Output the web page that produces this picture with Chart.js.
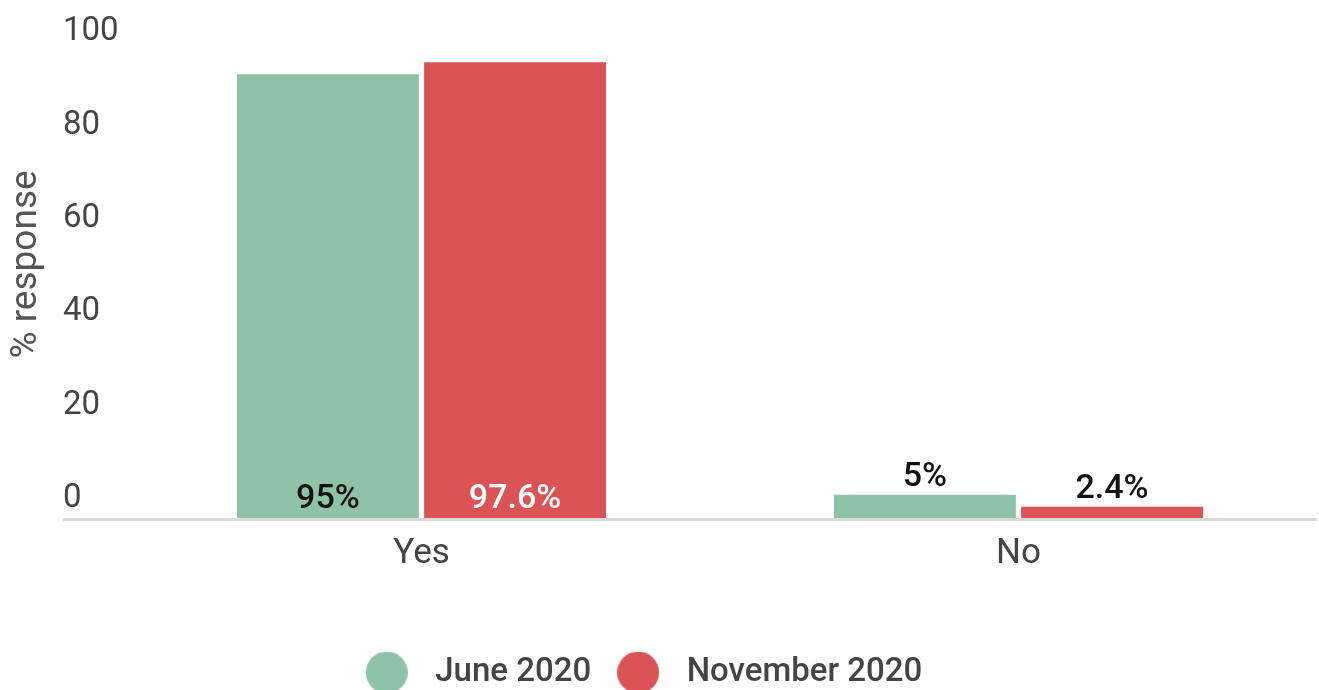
<!DOCTYPE html>
<html>
<head>
<meta charset="utf-8">
<script src="https://cdn.jsdelivr.net/npm/chart.js@4.4.1/dist/chart.umd.min.js"></script>
<style>
  html, body { margin: 0; padding: 0; background: #fff; overflow: hidden; height: 690px; }
  #wrap { width: 1319px; height: 699px; position: relative; }
</style>
</head>
<body>
<div id="wrap"><canvas id="chart"></canvas></div>
<script>
// survey answers, % of respondents
const categories = ['Yes', 'No'];
const june2020 = [95, 5];
const november2020 = [97.6, 2.4];
const seriesNames = ['June 2020', 'November 2020'];
const yTicks = [0, 20, 40, 60, 80, 100];
const yTitle = '% response';

const GREEN = '#8fc3a8';
const RED = '#dc5356';
const TEXT = '#444';

Chart.defaults.font.family = 'Roboto';

// round legend markers, drawn once as small canvases
function dot(color) {
  const c = document.createElement('canvas');
  c.width = 42; c.height = 42;
  const g = c.getContext('2d');
  g.fillStyle = color;
  g.beginPath();
  g.arc(21, 21, 21, 0, Math.PI * 2);
  g.fill();
  return c;
}
const dots = [dot(GREEN), dot(RED)];

// grey baseline under the bars, running out under the y labels
const baseline = {
  id: 'baseline',
  beforeDatasetsDraw(chart) {
    const y = chart.scales.y;
    const yp = y.getPixelForValue(0);
    const x0 = y.right + y.options.ticks.padding;
    const ctx = chart.ctx;
    ctx.save();
    ctx.fillStyle = '#d9d9d9';
    ctx.fillRect(x0, yp, chart.chartArea.right - x0, 3);
    ctx.restore();
  }
};

// rotated y title
const yTitlePlugin = {
  id: 'yTitle',
  afterDraw(chart) {
    const ctx = chart.ctx;
    const a = chart.chartArea;
    ctx.save();
    ctx.translate(27, (a.top + a.bottom) / 2 - 20);
    ctx.rotate(-Math.PI / 2);
    ctx.textAlign = 'center';
    ctx.textBaseline = 'middle';
    ctx.font = '400 37px Roboto';
    ctx.fillStyle = '#555';
    ctx.fillText(yTitle, 0, 0);
    ctx.restore();
  }
};

// nudge the legend row a little to the left of the canvas centre
const legendShift = {
  id: 'legendShift',
  afterLayout(chart) { chart.legend.left -= 40; }
};

// value labels: inside the bar foot when tall, above the bar otherwise
const valueLabels = {
  id: 'valueLabels',
  afterDatasetsDraw(chart) {
    const ctx = chart.ctx;
    ctx.save();
    ctx.font = '500 34px Roboto';
    ctx.textAlign = 'center';
    ctx.textBaseline = 'alphabetic';
    chart.data.datasets.forEach((ds, di) => {
      chart.getDatasetMeta(di).data.forEach((bar, i) => {
        const text = ds.data[i] + '%';
        if (bar.base - bar.y > 60) {
          ctx.fillStyle = di === 0 ? '#111' : '#fff';
          ctx.fillText(text, bar.x, bar.base - 10);
        } else {
          ctx.fillStyle = '#111';
          ctx.fillText(text, bar.x, bar.y - 9);
        }
      });
    });
    ctx.restore();
  }
};

new Chart(document.getElementById('chart'), {
  type: 'bar',
  data: {
    labels: categories,
    datasets: [
      { label: seriesNames[0], data: june2020, backgroundColor: GREEN },
      { label: seriesNames[1], data: november2020, backgroundColor: RED }
    ]
  },
  options: {
    responsive: true,
    maintainAspectRatio: false,
    animation: false,
    categoryPercentage: 0.627,
    barPercentage: 0.972,
    layout: { padding: { left: 0, top: 51, right: 2, bottom: 0 } },
    scales: {
      x: {
        grid: { display: false },
        border: { display: false },
        ticks: { color: TEXT, font: { size: 35 }, padding: 7 },
        afterFit(scale) { scale.height = 123; }
      },
      y: {
        min: 0,
        max: 100,
        grid: { display: false },
        border: { display: false },
        afterBuildTicks(scale) { scale.ticks = yTicks.map(v => ({ value: v })); },
        afterFit(scale) { scale.width = 123; },
        ticks: {
          color: TEXT,
          font: { size: 33 },
          mirror: true,
          crossAlign: 'near',
          padding: -60,
          labelOffset: -19
        }
      }
    },
    plugins: {
      legend: {
        position: 'bottom',
        labels: {
          color: TEXT,
          font: { size: 33, weight: '500' },
          usePointStyle: true,
          pointStyleWidth: 64,
          boxHeight: 30,
          padding: 15,
          generateLabels(chart) {
            const items = Chart.defaults.plugins.legend.labels.generateLabels(chart);
            items.forEach((it, i) => { it.pointStyle = dots[i]; });
            return items;
          }
        }
      },
      tooltip: { enabled: false }
    }
  },
  plugins: [baseline, valueLabels, yTitlePlugin, legendShift]
});
</script>
</body>
</html>
